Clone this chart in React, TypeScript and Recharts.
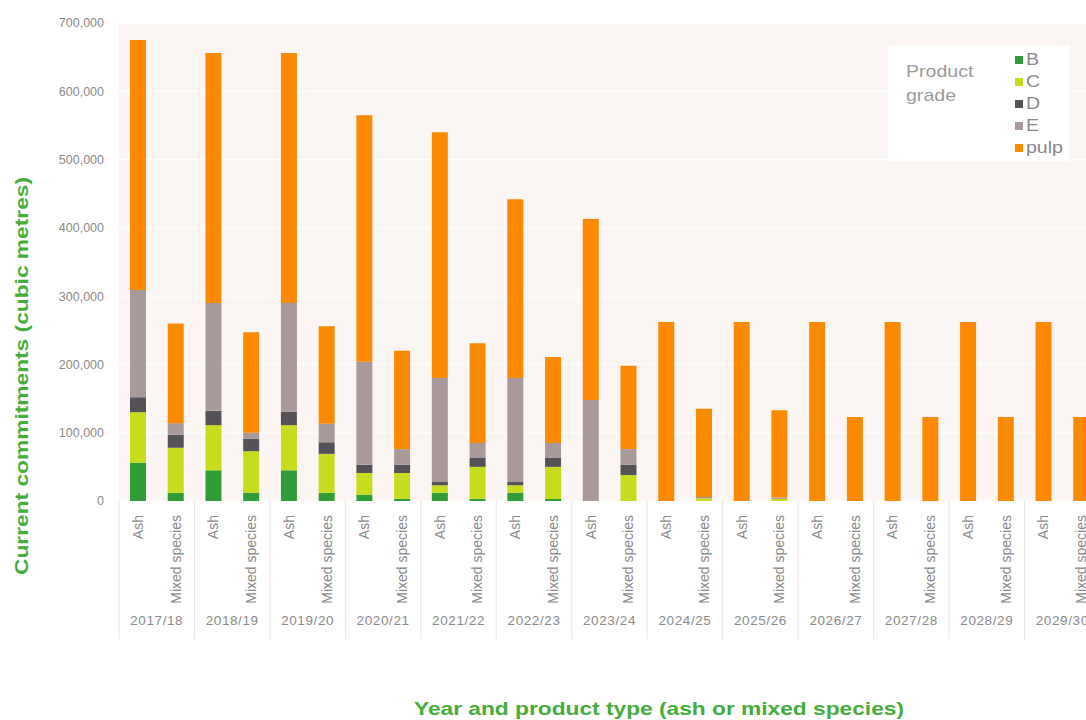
import React from "react";
import {
  BarChart,
  Bar,
  XAxis,
  YAxis,
  CartesianGrid,
  Legend,
  Label,
} from "recharts";

const years = [
  "2017/18", "2018/19", "2019/20", "2020/21", "2021/22", "2022/23", "2023/24",
  "2024/25", "2025/26", "2026/27", "2027/28", "2028/29", "2029/30",
];
const productTypes = ["Ash", "Mixed species"];

// one value per bar: Ash, Mixed species, Ash, Mixed species ...
const gradeB = [
  56000, 12000, 45000, 12000, 45000, 12000, 9000, 3000, 12000, 3000, 12000, 3000, 0,
  0, 0, 0, 0, 0, 0, 0, 0, 0, 0, 0, 0, 0,
];
const gradeC = [
  74000, 66000, 66000, 61000, 66000, 57000, 32000, 38000, 11000, 47000, 11000, 47000, 0,
  38000, 0, 4000, 0, 3000, 0, 0, 0, 0, 0, 0, 0, 0,
];
const gradeD = [
  22000, 19000, 21000, 18000, 20000, 17000, 12000, 12000, 5000, 13000, 5000, 13000, 0,
  15000, 0, 0, 0, 0, 0, 0, 0, 0, 0, 0, 0, 0,
];
const gradeE = [
  157000, 17000, 158000, 9000, 159000, 27000, 151000, 23000, 152000, 22000, 152000, 22000,
  148000, 23000, 0, 2000, 0, 2000, 0, 0, 0, 0, 0, 0, 0, 0,
];
const gradePulp = [
  366000, 146000, 366000, 147000, 366000, 143000, 361000, 144000, 360000, 146000, 262000,
  126000, 265000, 122000, 262000, 129000, 262000, 128000, 262000, 123000, 262000, 123000,
  262000, 123000, 262000, 123000,
];
const yTicks = [0, 100000, 200000, 300000, 400000, 500000, 600000, 700000];

const data = years.flatMap((year, yi) =>
  productTypes.map((type, ti) => {
    const i = yi * 2 + ti;
    return {
      year,
      type,
      B: gradeB[i],
      C: gradeC[i],
      D: gradeD[i],
      E: gradeE[i],
      pulp: gradePulp[i],
    };
  })
);

const FONT = "'Liberation Sans', Arial, sans-serif";
const GREEN = "#44ad3c";
const GREY_TEXT = "#8a8a8a";

const CHART_W = 1110;
const CHART_H = 720;
const Y_AXIS_W = 119;
const RIGHT = 10;
const HALF = (CHART_W - RIGHT - Y_AXIS_W) / data.length / 2;

const SpeciesTick = (props: any) => {
  const { x, y, payload, index } = props;
  const tx = x + 5;
  const ty = y + 14;
  return (
    <g>
      {index % 2 === 0 && (
        <line x1={x - HALF} x2={x - HALF} y1={y} y2={y + 138} stroke="#e6e6e6" />
      )}
      <text
        x={tx}
        y={ty}
        transform={`rotate(-90 ${tx} ${ty})`}
        textAnchor="end"
        fontSize={14}
        fill={GREY_TEXT}
        fontFamily={FONT}
      >
        {payload.value}
      </text>
    </g>
  );
};

const YearTick = (props: any) => {
  const { x, y, payload, index } = props;
  if (index % 2 !== 0) return <g />;
  return (
    <text
      x={x + HALF}
      y={y + 9}
      textAnchor="middle"
      fontSize={13.5}
      letterSpacing={0.6}
      fill={GREY_TEXT}
      fontFamily={FONT}
    >
      {payload.value}
    </text>
  );
};

const renderLegend = (props: any) => {
  const { payload } = props;
  return (
    <div
      style={{
        background: "#fff",
        width: 182,
        height: 116,
        position: "relative",
        fontFamily: FONT,
      }}
    >
      <div
        style={{
          position: "absolute",
          left: 18,
          top: 15,
          color: "#9a9a9a",
          fontSize: 17,
          lineHeight: "24px",
          transform: "scaleX(1.15)",
          transformOrigin: "left center",
        }}
      >
        Product
        <br />
        grade
      </div>
      <div style={{ position: "absolute", left: 127, top: 4 }}>
        {payload.map((p: any) => (
          <div
            key={p.value}
            style={{
              display: "flex",
              alignItems: "center",
              height: 22,
              color: "#888",
              fontSize: 17,
            }}
          >
            <span
              style={{
                display: "inline-block",
                width: 8,
                height: 8,
                background: p.color,
                marginRight: 3,
              }}
            />
            <span style={{ display: "inline-block", transform: "scaleX(1.15)", transformOrigin: "left center" }}>
              {p.value}
            </span>
          </div>
        ))}
      </div>
    </div>
  );
};

export default function App() {
  return (
    <div
      style={{
        position: "fixed",
        left: 0,
        top: 0,
        width: 1086,
        height: 720,
        overflow: "hidden",
        background: "#fff",
      }}
    >
      <BarChart
        width={CHART_W}
        height={CHART_H}
        data={data}
        margin={{ top: 23, right: RIGHT, left: 0, bottom: 0 }}
        style={{ fontFamily: FONT }}
      >
        <CartesianGrid fill="#fbf6f4" stroke="#ffffff" vertical={false} />
        <XAxis
          xAxisId="species"
          dataKey="type"
          height={115}
          interval={0}
          tickSize={0}
          tickMargin={0}
          axisLine={false}
          tickLine={false}
          tick={SpeciesTick}
        />
        <XAxis
          xAxisId="year"
          dataKey="year"
          height={104}
          interval={0}
          tickSize={0}
          tickMargin={0}
          axisLine={false}
          tickLine={false}
          tick={YearTick}
        >
          <Label
            content={() => (
              <text
                x={659}
                y={715}
                textAnchor="middle"
                fontSize={19}
                fontWeight="bold"
                fill={GREEN}
                fontFamily={FONT}
                textLength={490}
                lengthAdjust="spacingAndGlyphs"
              >
                Year and product type (ash or mixed species)
              </text>
            )}
          />
        </XAxis>
        <YAxis
          width={Y_AXIS_W}
          domain={[0, 700000]}
          ticks={yTicks}
          interval={0}
          tickSize={0}
          tickMargin={15}
          axisLine={false}
          tickLine={false}
          tick={{ fontSize: 12.5, fill: GREY_TEXT, fontFamily: FONT }}
          tickFormatter={(v: number) => v.toLocaleString("en-GB")}
        >
          <Label
            content={() => (
              <text
                x={28}
                y={376}
                transform="rotate(-90 28 376)"
                textAnchor="middle"
                fontSize={19}
                fontWeight="bold"
                fill={GREEN}
                fontFamily={FONT}
                textLength={398}
                lengthAdjust="spacingAndGlyphs"
              >
                Current commitments (cubic metres)
              </text>
            )}
          />
        </YAxis>
        <Legend
          layout="vertical"
          align="center"
          verticalAlign="middle"
          content={renderLegend}
          wrapperStyle={{ position: "absolute", left: 888, top: 45, width: 182, height: 116 }}
        />
        <Bar xAxisId="species" dataKey="B" name="B" stackId="a" fill="#2f9e36" barSize={16} isAnimationActive={false} />
        <Bar xAxisId="species" dataKey="C" name="C" stackId="a" fill="#c6dc1c" barSize={16} isAnimationActive={false} />
        <Bar xAxisId="species" dataKey="D" name="D" stackId="a" fill="#545257" barSize={16} isAnimationActive={false} />
        <Bar xAxisId="species" dataKey="E" name="E" stackId="a" fill="#a9999b" barSize={16} isAnimationActive={false} />
        <Bar xAxisId="species" dataKey="pulp" name="pulp" stackId="a" fill="#fb8a00" barSize={16} isAnimationActive={false} />
      </BarChart>
    </div>
  );
}
